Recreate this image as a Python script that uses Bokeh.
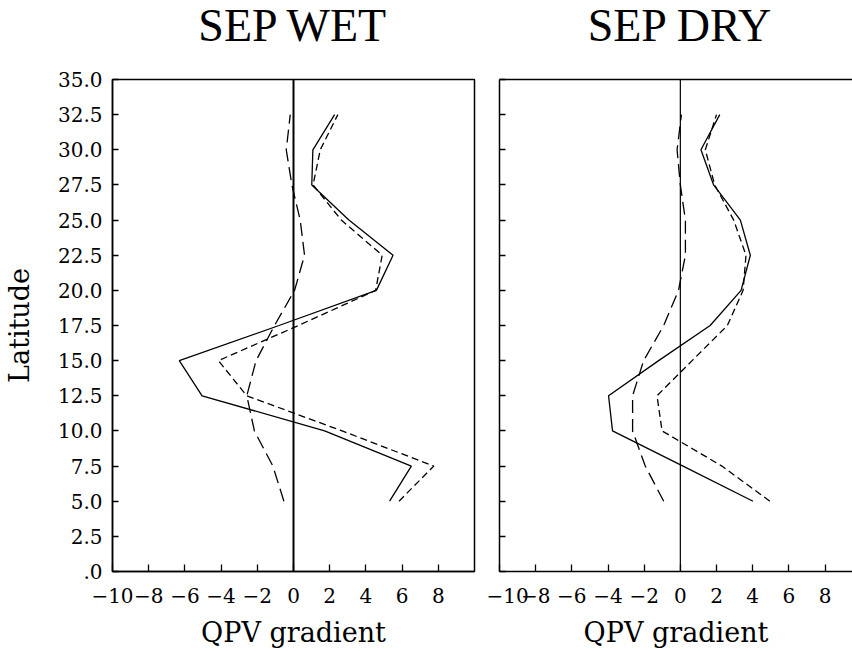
from bokeh.plotting import figure
from bokeh.layouts import row, column
from bokeh.models import (LinearAxis, FixedTicker, Span, ColumnDataSource)
from bokeh.core.properties import value
from bokeh.embed import file_html
from bokeh.resources import INLINE

# ---------------- data ----------------
latitude = [5.0, 7.5, 10.0, 12.5, 15.0, 17.5, 20.0, 22.5, 25.0, 27.5, 30.0, 32.5]

wet_solid = [5.31, 6.51, 1.72, -5.05, -6.31, -0.80, 4.58, 5.50, 3.06, 1.01, 1.07, 2.27]
wet_short = [5.83, 7.75, 2.69, -2.58, -4.15, 0.27, 4.54, 4.90, 2.64, 1.08, 1.48, 2.45]
wet_long = [-0.53, -1.14, -2.16, -2.58, -2.07, -1.05, 0.06, 0.61, 0.37, -0.09, -0.40, -0.18]

dry_solid = [4.02, 0.15, -3.75, -3.97, -1.20, 1.65, 3.36, 3.87, 3.32, 1.84, 1.14, 2.18]
dry_short = [4.95, 2.30, -1.01, -1.29, 0.65, 2.60, 3.47, 3.63, 2.95, 1.90, 1.38, 2.00]
dry_long = [-0.92, -1.94, -2.64, -2.64, -2.03, -0.92, -0.10, 0.28, 0.28, 0.00, -0.18, 0.06]

titles = ["SEP WET", "SEP DRY"]
x_label = "QPV gradient"
y_label = "Latitude"

y_ticks = [0, 2.5, 5, 7.5, 10, 12.5, 15, 17.5, 20, 22.5, 25, 27.5, 30, 32.5, 35]
y_tick_labels = [".0", "2.5", "5.0", "7.5", "10.0", "12.5", "15.0", "17.5",
                 "20.0", "22.5", "25.0", "27.5", "30.0", "32.5", "35.0"]
x_ticks = [-10, -8, -6, -4, -2, 0, 2, 4, 6, 8]
x_tick_labels = ["\u221210", "\u22128", "\u22126", "\u22124", "\u22122",
                 "0", "2", "4", "6", "8"]

FONT = "DejaVu Serif"
TITLE_FONT = "Liberation Serif"
TITLE_H = 65
PANEL_TOP = 14
PANEL_H = 585


def make_title(title, width, x_end, left_border, right_border):
    t = figure(width=width, height=TITLE_H, x_range=(-10, x_end), y_range=(0, 1),
               output_backend="svg", toolbar_location=None,
               min_border_left=left_border, min_border_right=right_border,
               min_border_top=0, min_border_bottom=0,
               x_axis_location=None, y_axis_location=None)
    t.grid.visible = False
    t.outline_line_color = None
    t.background_fill_color = "white"
    t.border_fill_color = "white"
    src = ColumnDataSource(dict(x=[0], y=[1 - 25 / TITLE_H], text=[title]))
    t.text("x", "y", text="text", source=src, text_align="center",
           text_baseline="alphabetic", text_font=value(TITLE_FONT),
           text_font_size="46px", text_color="black")
    return t


def make_panel(solid, short, long_, width, x_end, left_border, right_border,
               show_ylabels, zero_width, full_outline):
    p = figure(width=width, height=PANEL_H, x_range=(-10, x_end), y_range=(0, 35),
               output_backend="svg", toolbar_location=None,
               min_border_left=left_border, min_border_right=right_border,
               min_border_top=PANEL_TOP, min_border_bottom=79,
               x_axis_location=None, y_axis_location=None)
    p.grid.visible = False
    p.background_fill_color = "white"
    p.border_fill_color = "white"
    if full_outline:
        p.outline_line_color = "black"
        p.outline_line_width = 1.5
    else:
        p.outline_line_color = None
        top = LinearAxis(ticker=FixedTicker(ticks=[], minor_ticks=[]))
        top.axis_line_width = 1.5
        top.axis_line_color = "black"
        p.add_layout(top, "above")

    # y axis
    ya = LinearAxis(ticker=FixedTicker(ticks=y_ticks, minor_ticks=[]))
    if show_ylabels:
        ya.major_label_overrides = {float(k): v for k, v in zip(y_ticks, y_tick_labels)}
        ya.axis_label = y_label
        ya.axis_label_text_font = FONT
        ya.axis_label_text_font_size = "27px"
        ya.axis_label_text_font_style = "normal"
        ya.axis_label_text_color = "black"
        ya.axis_label_standoff = 20
    else:
        ya.major_label_overrides = {float(k): "" for k in y_ticks}
    ya.major_label_standoff = 10
    ya.major_label_text_font = FONT
    ya.major_label_text_font_size = "20px"
    ya.major_label_text_color = "black"
    ya.major_tick_in = 6
    ya.major_tick_out = 0
    ya.major_tick_line_width = 1.3
    ya.axis_line_width = 1.5
    p.add_layout(ya, "left")

    # x axis
    xa = LinearAxis(ticker=FixedTicker(ticks=x_ticks, minor_ticks=[]))
    xa.major_label_overrides = {float(k): v for k, v in zip(x_ticks, x_tick_labels)}
    xa.major_label_text_font = FONT
    xa.major_label_text_font_size = "20px"
    xa.major_label_text_color = "black"
    xa.major_label_standoff = 16
    xa.major_tick_in = 7
    xa.major_tick_out = 0
    xa.major_tick_line_width = 1.3
    xa.axis_line_width = 1.5
    xa.axis_label = x_label
    xa.axis_label_text_font = FONT
    xa.axis_label_text_font_size = "27px"
    xa.axis_label_text_font_style = "normal"
    xa.axis_label_text_color = "black"
    xa.axis_label_standoff = 11
    p.add_layout(xa, "below")

    p.add_layout(Span(location=0, dimension="height", line_color="black",
                      line_width=zero_width))

    src = ColumnDataSource(dict(lat=latitude, solid=solid, short=short, long=long_))
    p.line("solid", "lat", source=src, line_color="black", line_width=1.3)
    p.line("short", "lat", source=src, line_color="black", line_width=1.3,
           line_dash="7 4")
    p.line("long", "lat", source=src, line_color="black", line_width=1.3,
           line_dash="13 6")
    return p


t_left = make_title(titles[0], 486, 10, 112, 12)
t_right = make_title(titles[1], 366, 9.52, 13, 0)
left = make_panel(wet_solid, wet_short, wet_long, 486, 10, 112, 12, True, 2, True)
right = make_panel(dry_solid, dry_short, dry_long, 366, 9.52, 13, 0, False, 1.2, False)

layout = column(row(t_left, t_right, spacing=0), row(left, right, spacing=0), spacing=0)
open("out.html", "w").write(file_html(layout, INLINE))
